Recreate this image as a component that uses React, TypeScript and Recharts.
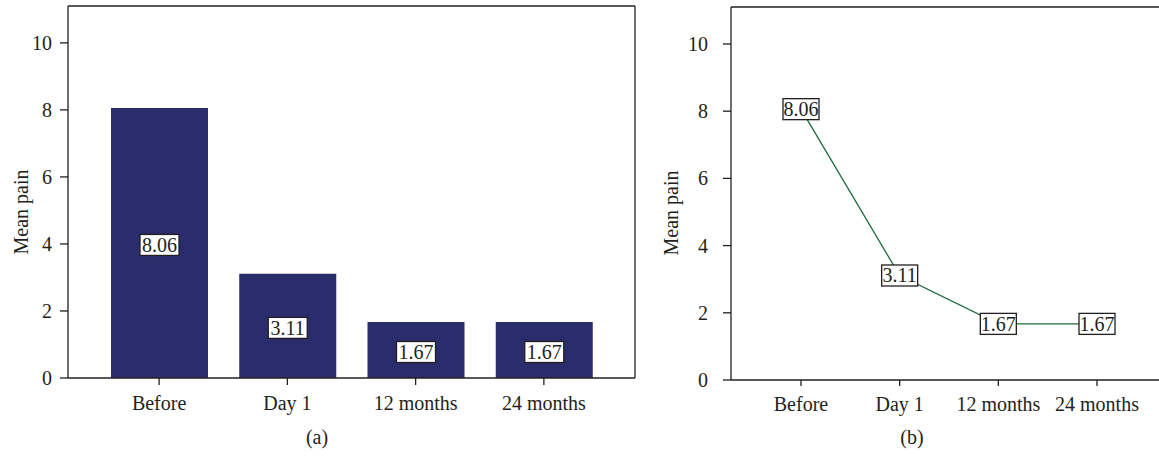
import React from "react";
import { BarChart, Bar, LineChart, Line, XAxis, YAxis, LabelList } from "recharts";

const categories = ["Before", "Day 1", "12 months", "24 months"];
const meanPain = [8.06, 3.11, 1.67, 1.67];
const yTicks = [0, 2, 4, 6, 8, 10];
const yDomain = [0, 11.1];
const yLabel = "Mean pain";
const captions = ["(a)", "(b)"];

const data = categories.map((name, i) => ({ name, value: meanPain[i] }));

const FONT = "'Liberation Serif', 'Times New Roman', serif";
const INK = "#231f20";
const BAR_COLOR = "#2b2c6b";
const LINE_COLOR = "#1f6b42";

const tickStyle = { fontFamily: FONT, fontSize: 20, fill: INK };

const BoxLabel = (pad: number, dyShift: number, isBar: boolean) => (props: any) => {
  const { x, y, width, height, value } = props;
  const cx = isBar ? Number(x) + Number(width) / 2 : Number(x);
  const cy = isBar ? Number(y) + Number(height) / 2 + dyShift : Number(y);
  const txt = Number(value).toFixed(2);
  const w = txt.length * 8.75 + pad * 2;
  const h = 21;
  return (
    <g>
      <rect x={cx - w / 2} y={cy - h / 2} width={w} height={h} fill="#fff" stroke={INK} strokeWidth={1.3} />
      <text x={cx} y={cy} dy="0.35em" textAnchor="middle" style={tickStyle}>
        {txt}
      </text>
    </g>
  );
};

const YTitle = (bx: number, cy: number) => () => (
  <text
    x={bx}
    y={cy}
    transform={`rotate(-90, ${bx}, ${cy})`}
    textAnchor="middle"
    style={tickStyle}
  >
    {yLabel}
  </text>
);

export default function App() {
  return (
    <div style={{ position: "absolute", left: 0, top: 0, width: 1159, height: 456, background: "#fff", overflow: "hidden" }}>
      <div style={{ position: "absolute", left: 0, top: 0 }}>
        <BarChart width={660} height={456} data={data} margin={{ top: 5, right: 24, bottom: 48, left: 8 }}>
          <XAxis
            dataKey="name"
            padding={{ left: 27, right: 27 }}
            height={30}
            tickSize={7}
            tickMargin={11}
            tick={tickStyle}
            stroke={INK}
            strokeWidth={1.3}
            interval={0}
          />
          <XAxis xAxisId="top" orientation="top" dataKey="name" height={1} tick={false} tickLine={false} stroke={INK} strokeWidth={1.3} />
          <YAxis
            domain={yDomain}
            ticks={yTicks}
            width={60}
            tickSize={8}
            tickMargin={8}
            tick={tickStyle}
            stroke={INK}
            strokeWidth={1.3}
            allowDataOverflow
            label={{ content: YTitle(28, 212) }}
          />
          <YAxis yAxisId="frame" orientation="right" width={1} domain={yDomain} tick={false} tickLine={false} stroke={INK} strokeWidth={1.3} />
          <Bar dataKey="value" fill={BAR_COLOR} barSize={97} isAnimationActive={false}>
            <LabelList dataKey="value" content={BoxLabel(2, 2, true)} />
          </Bar>
        </BarChart>
      </div>
      <div style={{ position: "absolute", left: 640, top: 0 }}>
        <LineChart width={519} height={456} data={data} margin={{ top: 6, right: 0, bottom: 46, left: 11 }}>
          <XAxis
            dataKey="name"
            padding={{ left: 70, right: 62 }}
            height={30}
            tickSize={6}
            tickMargin={11}
            tick={tickStyle}
            stroke={INK}
            strokeWidth={1.3}
            interval={0}
          />
          <XAxis xAxisId="top" orientation="top" dataKey="name" height={1} tick={false} tickLine={false} stroke={INK} strokeWidth={1.3} />
          <YAxis
            domain={yDomain}
            ticks={yTicks}
            width={80}
            tickSize={8}
            tickMargin={15}
            tick={tickStyle}
            stroke={INK}
            strokeWidth={1.3}
            allowDataOverflow
            label={{ content: YTitle(38, 213) }}
          />
          <Line dataKey="value" stroke={LINE_COLOR} strokeWidth={1.3} dot={false} activeDot={false} isAnimationActive={false}>
            <LabelList dataKey="value" content={BoxLabel(0.5, 0, false)} />
          </Line>
        </LineChart>
      </div>
      <svg width={1159} height={456} style={{ position: "absolute", left: 0, top: 0, pointerEvents: "none" }}>
        <text x={317} y={444} textAnchor="middle" style={tickStyle}>{captions[0]}</text>
        <text x={912} y={444} textAnchor="middle" style={tickStyle}>{captions[1]}</text>
      </svg>
    </div>
  );
}
